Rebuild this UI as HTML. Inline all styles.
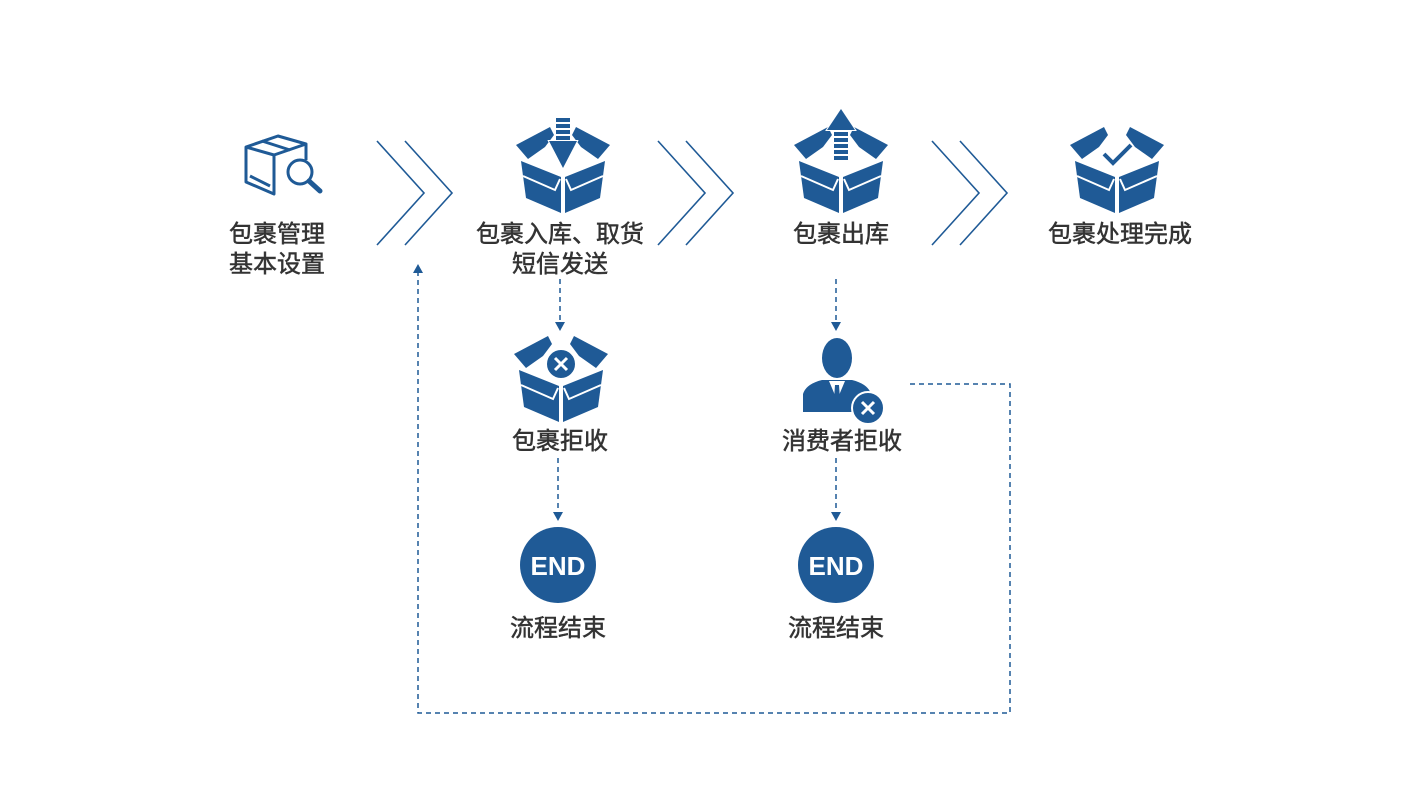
<!DOCTYPE html>
<html><head><meta charset="utf-8"><style>
html,body{margin:0;padding:0;background:#fff;}
svg{display:block;}
text{font-family:"Liberation Sans","Noto Sans CJK SC",sans-serif;}
</style></head><body>
<svg width="1421" height="800" viewBox="0 0 1421 800" xmlns="http://www.w3.org/2000/svg">
<defs>
<g id="boxbody">
  <polygon points="-47,27 -13,9 -9,17 -18,29 -35,41" fill="#1f5a96"/>
  <polygon points="47,27 13,9 9,17 18,29 35,41" fill="#1f5a96"/>
  <polygon points="-42,43 -2,59 -2,95 -37,80" fill="#1f5a96"/>
  <polygon points="42,43 2,59 2,95 37,80" fill="#1f5a96"/>
  <polyline points="-40,58 -8,72 -3,61" fill="none" stroke="#fff" stroke-width="2"/>
  <polyline points="40,58 8,72 3,61" fill="none" stroke="#fff" stroke-width="2"/>
</g>
<g id="chev" fill="none" stroke="#1f5a96" stroke-width="1.6">
  <polyline points="0,0 47,52 0,104"/>
  <polyline points="28,0 75,52 28,104"/>
</g>
</defs>

<g fill="none" stroke="#1f5a96" stroke-width="3" stroke-linejoin="round">
  <polygon points="246,147 278,136 306,144 274,155"/>
  <polyline points="246,147 246,182 274,194 274,155"/>
  <polyline points="306,144 306,160"/>
  <polyline points="262,141 290,150"/>
  <polyline points="250,176 270,186"/>
  <circle cx="300" cy="172" r="12"/>
  <line x1="309" y1="181" x2="320" y2="191" stroke-width="5" stroke-linecap="round"/>
</g>

<use href="#chev" x="377" y="141"/>
<use href="#chev" x="658" y="141"/>
<use href="#chev" x="932" y="141"/>

<g transform="translate(563,118)"><use href="#boxbody"/>
  <g fill="#1f5a96" stroke="#fff" stroke-width="2" paint-order="stroke"><rect x="-7" y="0" width="14" height="4"/><rect x="-7" y="6" width="14" height="4"/><rect x="-7" y="12" width="14" height="4"/><rect x="-7" y="18" width="14" height="4"/><polygon points="-14,23 14,23 0,50"/></g>
</g>
<g transform="translate(841,118)"><use href="#boxbody"/>
  <g fill="#1f5a96" stroke="#fff" stroke-width="2" paint-order="stroke"><polygon points="0,-9 -14,12 14,12"/><rect x="-7" y="14" width="14" height="4"/><rect x="-7" y="20" width="14" height="4"/><rect x="-7" y="26" width="14" height="4"/><rect x="-7" y="32" width="14" height="4"/><rect x="-7" y="38" width="14" height="4"/></g>
</g>
<g transform="translate(1117,118)"><use href="#boxbody"/>
  <polyline points="-13,36 -4,45 14,27" fill="none" stroke="#1f5a96" stroke-width="4"/>
</g>
<g transform="translate(561,327)"><use href="#boxbody"/>
  <circle cx="0" cy="37" r="15" fill="#1f5a96" stroke="#fff" stroke-width="2"/>
  <path d="M-6,31 L6,43 M6,31 L-6,43" stroke="#fff" stroke-width="3"/>
</g>
<g fill="#1f5a96">
  <ellipse cx="837" cy="358" rx="15" ry="20"/>
  <path d="M803,412 L803,394 Q806,384 822,380 L852,380 Q868,384 871,394 L871,412 Z"/>
  <polygon points="829,381 837,400 845,381" fill="#fff"/>
  <polygon points="835,385 839,385 840,399 837,403 834,399" fill="#1f5a96"/>
  <circle cx="868" cy="408" r="16" stroke="#fff" stroke-width="2"/>
  <path d="M862,402 L874,414 M874,402 L862,414" stroke="#fff" stroke-width="3"/>
</g>

<g>
  <circle cx="558" cy="565" r="38" fill="#1f5a96"/>
  <text x="558" y="575" text-anchor="middle" fill="#fff" font-size="26" font-weight="bold">END</text>
  <circle cx="836" cy="565" r="38" fill="#1f5a96"/>
  <text x="836" y="575" text-anchor="middle" fill="#fff" font-size="26" font-weight="bold">END</text>
</g>

<g fill="none" stroke="#1f5a96" stroke-width="1.5" stroke-dasharray="5,4">
  <line x1="560" y1="279" x2="560" y2="323"/>
  <line x1="558" y1="458" x2="558" y2="513"/>
  <line x1="836" y1="279" x2="836" y2="323"/>
  <line x1="836" y1="458" x2="836" y2="513"/>
  <polyline points="910,384 1010,384 1010,713 418,713 418,272"/>
</g>
<g fill="#1f5a96">
  <polygon points="555,322 565,322 560,331"/>
  <polygon points="553,512 563,512 558,521"/>
  <polygon points="831,322 841,322 836,331"/>
  <polygon points="831,512 841,512 836,521"/>
  <polygon points="413,273 423,273 418,264"/>
</g>

<g fill="#333" stroke="#333" stroke-width="0.5" font-size="24" text-anchor="middle">
  <text x="277" y="242">包裹管理</text>
  <text x="277" y="272">基本设置</text>
  <text x="560" y="242">包裹入库、取货</text>
  <text x="560" y="272">短信发送</text>
  <text x="841" y="242">包裹出库</text>
  <text x="1120" y="242">包裹处理完成</text>
  <text x="560" y="449">包裹拒收</text>
  <text x="842" y="449">消费者拒收</text>
  <text x="558" y="636">流程结束</text>
  <text x="836" y="636">流程结束</text>
</g>
</svg>
</body></html>
